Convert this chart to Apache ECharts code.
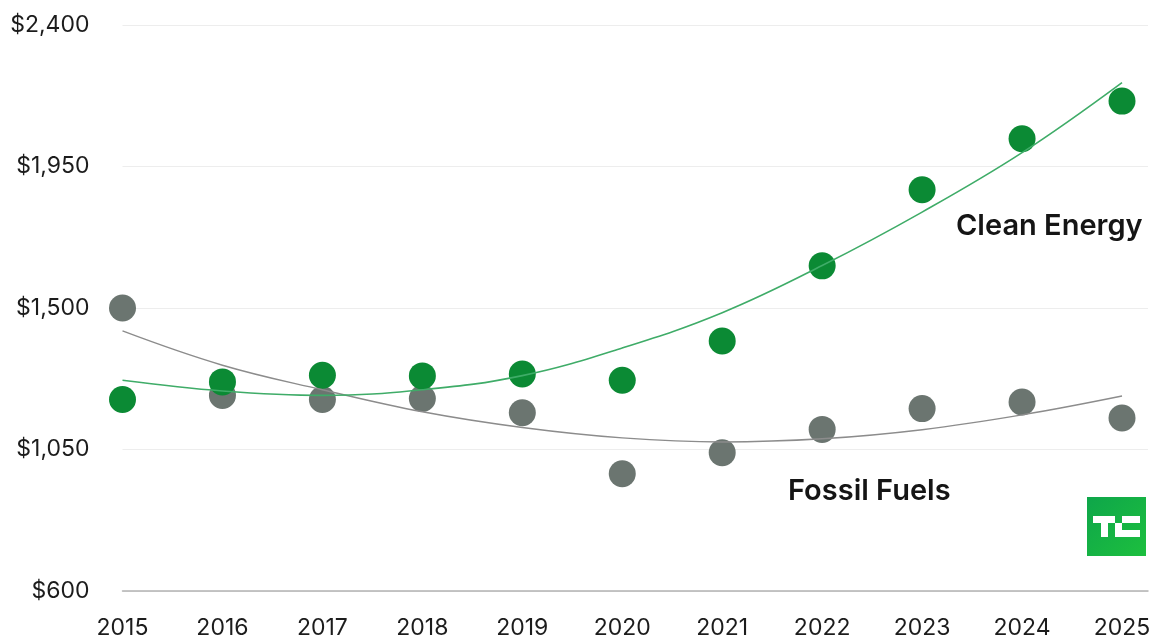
<!DOCTYPE html>
<html>
<head>
<meta charset="utf-8">
<script src="https://cdn.jsdelivr.net/npm/echarts@6/dist/echarts.min.js"></script>
<style>
html,body{margin:0;padding:0;background:#fff;}
#chart{width:1155px;height:641px;}
</style>
</head>
<body>
<div id="chart"></div>
<script>
const years = [2015, 2016, 2017, 2018, 2019, 2020, 2021, 2022, 2023, 2024, 2025];
const cleanEnergy = [1209, 1265, 1286, 1284, 1290, 1270, 1395, 1634, 1876, 2038, 2158];
const fossilFuels = [1500, 1222, 1209, 1212, 1167, 973, 1040, 1114, 1180, 1201, 1150];
const cleanTrend = [1270, 1236, 1222, 1240, 1285, 1373, 1485, 1635, 1805, 1994, 2217];
const fossilTrend = [1427, 1318, 1240, 1170, 1120, 1087, 1074, 1084, 1113, 1160, 1220];
const yTicks = [600, 1050, 1500, 1950, 2400];

const pairs = (vals) => years.map((y, i) => [y, vals[i]]);
const FONT = 'Inter';

const chart = echarts.init(document.getElementById('chart'));
chart.setOption({
  animation: false,
  backgroundColor: '#ffffff',
  grid: { left: 122.5, right: 7, top: 25, bottom: 50 },
  xAxis: {
    type: 'value',
    min: 2015,
    max: 2025.26,
    interval: 1,
    axisLine: { show: true, lineStyle: { color: '#b3b3b3', width: 1.5 } },
    axisTick: { show: false },
    splitLine: { show: false },
    axisLabel: {
      showMaxLabel: false,
      margin: 26,
      fontFamily: FONT,
      fontSize: 23,
      color: '#1c1c1c',
      formatter: (v) => String(v)
    }
  },
  yAxis: {
    type: 'value',
    min: yTicks[0],
    max: yTicks[yTicks.length - 1],
    interval: 450,
    axisLine: { show: false },
    axisTick: { show: false },
    splitLine: { show: true, lineStyle: { color: '#ededed', width: 1.2 } },
    axisLabel: {
      margin: 33,
      fontFamily: FONT,
      fontSize: 23,
      color: '#1c1c1c',
      formatter: (v) => '$' + v.toLocaleString('en-US')
    }
  },
  series: [
    {
      name: 'Fossil Fuels',
      type: 'scatter',
      data: pairs(fossilFuels),
      symbolSize: 27,
      itemStyle: { color: '#6b7570', opacity: 1 },
      z: 2
    },
    {
      name: 'Clean Energy',
      type: 'scatter',
      data: pairs(cleanEnergy),
      symbolSize: 27,
      itemStyle: { color: '#0b8a34', opacity: 1 },
      z: 3
    },
    {
      name: 'Fossil Trend',
      type: 'line',
      data: pairs(fossilTrend),
      smooth: 0.4,
      showSymbol: false,
      lineStyle: { color: '#8c8c8c', width: 1.4 },
      z: 4
    },
    {
      name: 'Clean Trend',
      type: 'line',
      data: pairs(cleanTrend),
      smooth: 0.4,
      showSymbol: false,
      lineStyle: { color: '#3fac68', width: 1.6 },
      z: 5
    }
  ],
  graphic: [
    {
      type: 'text', left: 956, top: 212,
      style: { text: 'Clean Energy', font: '600 29px Inter', fill: '#151515' }
    },
    {
      type: 'text', left: 788, top: 477,
      style: { text: 'Fossil Fuels', font: '600 29px Inter', fill: '#151515' }
    },
    {
      type: 'group', left: 1087, top: 497,
      children: [
        { type: 'rect', shape: { x: 0, y: 0, width: 59, height: 59 },
          style: { fill: new echarts.graphic.LinearGradient(0, 0, 1, 1, [{ offset: 0, color: '#0ea64a' }, { offset: 1, color: '#1dbf3e' }]) } },
        { type: 'rect', shape: { x: 6, y: 19, width: 22, height: 7 }, style: { fill: '#ffffff' } },
        { type: 'rect', shape: { x: 14, y: 26, width: 7, height: 14 }, style: { fill: '#ffffff' } },
        { type: 'rect', shape: { x: 28, y: 26, width: 7, height: 14 }, style: { fill: '#ffffff' } },
        { type: 'rect', shape: { x: 35, y: 19, width: 18, height: 7 }, style: { fill: '#ffffff' } },
        { type: 'rect', shape: { x: 35, y: 33, width: 18, height: 7 }, style: { fill: '#ffffff' } }
      ]
    }
  ]
});
</script>
</body>
</html>
